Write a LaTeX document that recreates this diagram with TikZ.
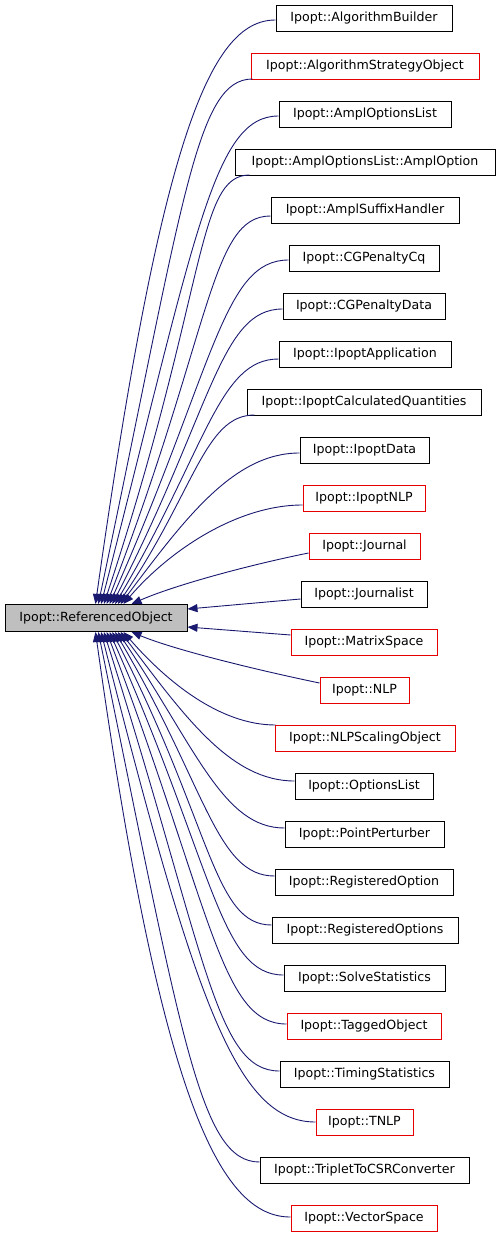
\documentclass[tikz,border=0pt]{standalone}
\usepackage{fontspec}
\setmainfont{DejaVu Sans}
\usetikzlibrary{arrows.meta,calc}
\definecolor{edgeblue}{RGB}{25,25,112}
\definecolor{basegray}{RGB}{191,191,191}
\definecolor{incred}{RGB}{230,0,0}
\begin{document}
\begin{tikzpicture}[x=1pt,y=1pt,
  cls/.style={draw=black, line width=1pt, fill=white, inner sep=0pt, minimum height=26pt, font=\fontsize{12.6}{14}\selectfont, text=black},
  basecls/.style={cls, fill=basegray, minimum height=27pt},
  edge/.style={draw=edgeblue, line width=0.9pt, -{Triangle[length=10pt,width=8pt]}}]
\useasboundingbox (0,0) rectangle (498,-1234);
\node[basecls, minimum width=182pt] (base) at (96,-618) {Ipopt::ReferencedObject};
\foreach \i/\lbl/\xa/\xb/\bc/\sdx/\sdy/\ex/\s in {
1/AlgorithmBuilder/276/452/black/0/2/96/1,
2/AlgorithmStrategyObject/251/479/incred/2/13/98.8/1,
3/AmplOptionsList/279/451/black/0/2/101.6/1,
4/AmplOptionsList::AmplOption/235/495/black/15/13/104.4/1,
5/AmplSuffixHandler/271/459/black/0/6/107.2/1,
6/CGPenaltyCq/289/439/black/0/2/110/1,
7/CGPenaltyData/283/445/black/0/3/112.8/1,
8/IpoptApplication/279/451/black/0/5/115.6/1,
9/IpoptCalculatedQuantities/247/481/black/8/13/118.4/1,
10/IpoptData/300/429/black/0/3/121.2/1,
11/IpoptNLP/303/425/incred/0/7/124/1,
12/Journal/309/420/incred/0/7/132/0,
13/Journalist/301/427/black/0/5/187/0,
14/MatrixSpace/291/437/incred/0/-7/187/0,
15/NLP/320/409/incred/0/-7/132/0,
16/NLPScalingObject/275/455/incred/1/-13/124/-1,
17/OptionsList/295/433/black/0/-5/121.2/-1,
18/PointPerturber/285/444/black/0/-6/118.4/-1,
19/RegisteredOption/275/453/black/0/-6/115.6/-1,
20/RegisteredOptions/272/458/black/0/-5/112.8/-1,
21/SolveStatistics/284/445/black/0/-3/110/-1,
22/TaggedObject/287/441/incred/0/-2/107.2/-1,
23/TimingStatistics/280/449/black/0/-3/104.4/-1,
24/TNLP/316/413/incred/0/0/101.6/-1,
25/TripletToCSRConverter/260/469/black/0/-8/98.8/-1,
26/VectorSpace/291/437/incred/0/-1/96/-1}{
  \pgfmathsetmacro\yc{-(18+48*(\i-1))}
  \pgfmathsetmacro\ww{\xb-\xa}
  \pgfmathsetmacro\xm{(\xa+\xb)/2}
  \node[cls, draw=\bc, minimum width=\ww pt] (n\i) at (\xm,\yc) {Ipopt::\lbl};
  \ifnum\s=0\relax\else
    \pgfmathsetmacro\sx{\xa+\sdx}
    \pgfmathsetmacro\sy{-(18+48*(\i-1)+(\sdy))}
    \ifnum\s=1 \def\ey{-604.5}\else\def\ey{-631.5}\fi
    \pgfmathsetmacro\dd{abs(\ey-\sy)}
    \pgfmathsetmacro\ff{(\dd-99)/485}
    \pgfmathsetmacro\ang{50+32*\ff}
    \pgfmathsetmacro\cc{\dd*(0.7+0.1*\ff)}
    \pgfmathsetmacro\pax{\sx-0.37*(\sx-\ex)}
    \pgfmathsetmacro\pbx{\ex+\cc*cos(\ang)}
    \pgfmathsetmacro\pby{\ey+\s*\cc*sin(\ang)}
    \ifnum\s=1
      \draw[edge] ($(n\i.west)+(\sdx,{-(\sdy)})$) .. controls (\pax,\sy) and (\pbx,\pby) .. ($(base.north west)+(\ex-5,0)$);
    \else
      \draw[edge] ($(n\i.west)+(\sdx,{-(\sdy)})$) .. controls (\pax,\sy) and (\pbx,\pby) .. ($(base.south west)+(\ex-5,0)$);
    \fi
  \fi
}
\draw[edge] ($(n12.west)+(0,-7)$) .. controls (249,-565) and (175,-585) .. ($(base.north west)+(127,0)$);
\draw[edge] ($(n13.west)+(0,-5)$) -- ($(base.east)+(0,9)$);
\draw[edge] ($(n14.west)+(0,7)$) -- ($(base.east)+(0,-9)$);
\draw[edge] ($(n15.west)+(0,7)$) .. controls (257,-670) and (175,-650) .. ($(base.south west)+(127,0)$);
\end{tikzpicture}
\end{document}
